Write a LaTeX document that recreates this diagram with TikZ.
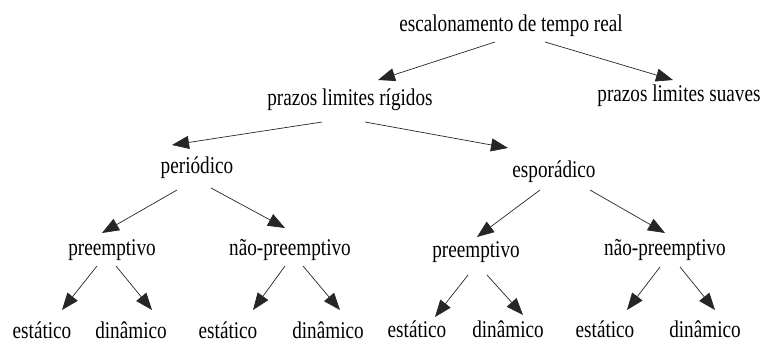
\documentclass[tikz,border=0pt]{standalone}
\usepackage{fontspec}
\setmainfont{Liberation Serif}[FakeStretch=0.8]
\usetikzlibrary{arrows.meta,calc}
\begin{document}
\begin{tikzpicture}[x=1pt,y=-1pt,
  lbl/.style={inner sep=0pt,anchor=base,font=\fontsize{24}{28}\selectfont},
  arr/.style={line width=0.7pt,draw=black!85,-{Triangle[length=17pt,width=13pt]}}]
\useasboundingbox (0,0) rectangle (763,342);
\node[lbl] (root) at (511,32) {escalonamento de tempo real};
\node[lbl] (rig) at (350,106) {prazos limites rígidos};
\node[lbl] (sua) at (679,102) {prazos limites suaves};
\node[lbl] (per) at (197,173) {periódico};
\node[lbl] (esp) at (554,177) {esporádico};
\node[lbl] (pl) at (112,255) {preemptivo};
\node[lbl] (nl) at (290,255) {não-preemptivo};
\node[lbl] (pr) at (476,257) {preemptivo};
\node[lbl] (nr) at (665,255) {não-preemptivo};
\node[lbl] (e1) at (42,338) {estático};
\node[lbl] (d1) at (131,338) {dinâmico};
\node[lbl] (e2) at (228,338) {estático};
\node[lbl] (d2) at (328,338) {dinâmico};
\node[lbl] (e3) at (417,337) {estático};
\node[lbl] (d3) at (508,337) {dinâmico};
\node[lbl] (e4) at (605,337) {estático};
\node[lbl] (d4) at (705,337) {dinâmico};
\draw[arr] ($(root.base)+(-16,10)$) -- ($(rig.base)+(28,-26)$);
\draw[arr] ($(root.base)+(34,10)$) -- ($(sua.base)+(-6,-22)$);
\draw[arr] ($(rig.base)+(-28,16)$) -- ($(per.base)+(-25,-28)$);
\draw[arr] ($(rig.base)+(15,16)$) -- ($(esp.base)+(-46,-29)$);
\draw[arr] ($(per.base)+(-20,17)$) -- ($(pl.base)+(-10,-22)$);
\draw[arr] ($(per.base)+(14,15)$) -- ($(nl.base)+(-5,-27)$);
\draw[arr] ($(pl.base)+(-15,11)$) -- ($(e1.base)+(20,-28)$);
\draw[arr] ($(pl.base)+(4,11)$) -- ($(d1.base)+(21,-28)$);
\draw[arr] ($(nl.base)+(-5,11)$) -- ($(e2.base)+(25,-28)$);
\draw[arr] ($(nl.base)+(13,11)$) -- ($(d2.base)+(12,-28)$);
\draw[arr] ($(esp.base)+(-14,13)$) -- ($(pr.base)+(1,-20)$);
\draw[arr] ($(esp.base)+(36,13)$) -- ($(nr.base)+(0,-22)$);
\draw[arr] ($(pr.base)+(-8,18)$) -- ($(e3.base)+(18,-20)$);
\draw[arr] ($(pr.base)+(11,18)$) -- ($(d3.base)+(15,-22)$);
\draw[arr] ($(nr.base)+(-5,12)$) -- ($(e4.base)+(22,-27)$);
\draw[arr] ($(nr.base)+(15,12)$) -- ($(d4.base)+(10,-27)$);
\end{tikzpicture}
\end{document}
